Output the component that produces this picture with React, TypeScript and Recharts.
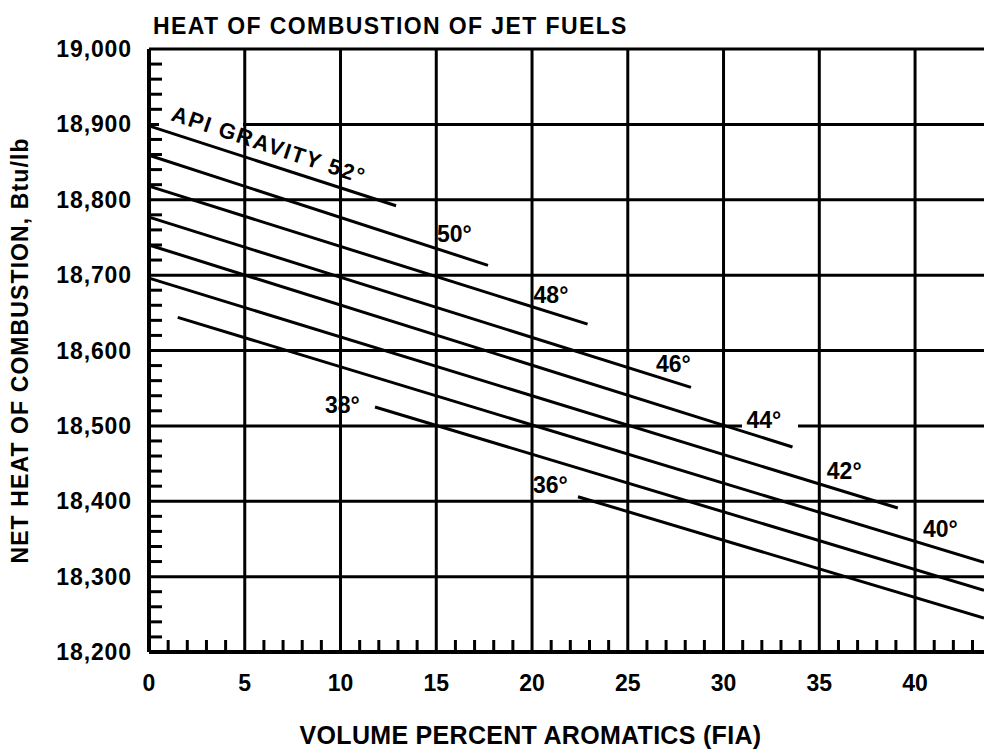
import { LineChart, Line, XAxis, YAxis, CartesianGrid, Label } from "recharts";

// API gravity of each curve and the two end points
const gravities = [52, 50, 48, 46, 44, 42, 40, 38, 36];
const startAromatics = [0, 0, 0, 0, 0, 0, 1.5, 11.8, 22.4];
const startHeat = [18898, 18859, 18818, 18777, 18740, 18696, 18644, 18525, 18406];
const endAromatics = [12.9, 17.7, 22.9, 28.3, 33.6, 39.1, 43.6, 43.6, 43.6];
const endHeat = [18792, 18713, 18635, 18551, 18472, 18391, 18319, 18282, 18245];

const majorX = [0, 5, 10, 15, 20, 25, 30, 35, 40];
const majorY = [18200, 18300, 18400, 18500, 18600, 18700, 18800, 18900, 19000];
const xTicks = Array.from({ length: 44 }, (_, i) => i);
const yTicks = Array.from({ length: 41 }, (_, i) => 18200 + i * 20);

const FONT = '"Liberation Sans", Arial, Helvetica, sans-serif';

type Placement = {
  at: number;
  dx: number;
  dy: number;
  text?: string;
  angle?: number;
  spacing?: number;
  // white patch that breaks the grid line behind the label
  knock?: { x: number; y: number; w: number; h: number };
};

const placements: Record<number, Placement> = {
  52: {
    at: 0,
    dx: 21,
    dy: -6,
    text: "API GRAVITY 52°",
    angle: 18.5,
    spacing: 1.7,
    knock: { x: 10, y: -5, w: 84, h: 5.2 },
  },
  50: { at: 1, dx: -51, dy: -23 },
  48: { at: 1, dx: -54, dy: -21 },
  46: { at: 1, dx: -35, dy: -15 },
  44: { at: 1, dx: -46, dy: -19, knock: { x: -50.5, y: -29, w: 56, h: 10 } },
  42: { at: 1, dx: -71, dy: -29 },
  40: { at: 1, dx: -61, dy: -25 },
  38: { at: 0, dx: -50, dy: 6 },
  36: { at: 0, dx: -45, dy: -4 },
};

const series = gravities.map((g, i) => ({
  gravity: g,
  points: [
    { x: startAromatics[i], y: startHeat[i] },
    { x: endAromatics[i], y: endHeat[i] },
  ],
}));

const XTick = (props: any) => {
  const { x, y, payload } = props;
  const v = payload.value;
  if (v % 5 !== 0) {
    return <line x1={x} y1={y} x2={x} y2={y - 12} stroke="#000" strokeWidth={3} />;
  }
  return (
    <text x={x} y={y + 39} textAnchor="middle" fontFamily={FONT} fontSize={23} fontWeight="bold" fill="#000">
      {v}
    </text>
  );
};

const YTick = (props: any) => {
  const { x, y, payload } = props;
  const v = payload.value;
  if (v % 100 !== 0) {
    return <line x1={x} y1={y} x2={x + 13} y2={y} stroke="#000" strokeWidth={3} />;
  }
  return (
    <text
      x={x - 17}
      y={y + 8}
      textAnchor="end"
      fontFamily={FONT}
      fontSize={23}
      fontWeight="bold"
      letterSpacing={0.9}
      fill="#000"
    >
      {v.toLocaleString("en-US")}
    </text>
  );
};

const labelDot = (g: number) => (p: any) => {
  const pl = placements[g];
  const key = `lbl-${g}-${p.index}`;
  if (p.index !== pl.at) return <g key={key} />;
  const x = p.cx + pl.dx;
  const y = p.cy + pl.dy;
  const k = pl.knock;
  return (
    <g key={key}>
      {k && <rect x={p.cx + k.x} y={p.cy + k.y} width={k.w} height={k.h} fill="#fff" />}
      <text
        x={x}
        y={y}
        fontFamily={FONT}
        fontSize={pl.angle ? 22 : 23}
        fontWeight="bold"
        letterSpacing={pl.spacing ?? 0}
        fill="#000"
        transform={pl.angle ? `rotate(${pl.angle} ${x} ${y})` : undefined}
      >
        {pl.text ?? `${g}°`}
      </text>
    </g>
  );
};

export default function App() {
  return (
    <div style={{ position: "absolute", left: 0, top: 0, width: 984, height: 751, background: "#fff" }}>
      <div
        style={{
          position: "absolute",
          left: 153,
          top: 15,
          fontFamily: FONT,
          fontSize: 23,
          lineHeight: "23px",
          fontWeight: "bold",
          letterSpacing: 1.4,
          whiteSpace: "nowrap",
          color: "#000",
        }}
      >
        HEAT OF COMBUSTION OF JET FUELS
      </div>
      <LineChart width={984} height={751} margin={{ top: 49, right: 0, bottom: 0, left: 0 }}>
        <CartesianGrid
          stroke="#000"
          strokeWidth={3}
          horizontalValues={majorY.slice(1)}
          verticalValues={majorX.slice(1)}
        />
        <XAxis
          type="number"
          dataKey="x"
          domain={[0, 43.6]}
          ticks={xTicks}
          interval={0}
          tick={(p: any) => <XTick {...p} />}
          tickLine={false}
          tickSize={0}
          tickMargin={0}
          height={99}
          axisLine={{ stroke: "#000", strokeWidth: 4 }}
        >
          <Label
            value="VOLUME PERCENT AROMATICS (FIA)"
            position="insideBottom"
            offset={7}
            dx={-36}
            fill="#000"
            style={{ fontFamily: FONT, fontSize: 25, fontWeight: "bold", letterSpacing: 0.3 }}
          />
        </XAxis>
        <YAxis
          type="number"
          domain={[18200, 19000]}
          ticks={yTicks}
          interval={0}
          tick={(p: any) => <YTick {...p} />}
          tickLine={false}
          tickSize={0}
          tickMargin={0}
          width={149}
          axisLine={{ stroke: "#000", strokeWidth: 4 }}
        >
          <Label
            value="NET HEAT OF COMBUSTION, Btu/lb"
            angle={-90}
            position="insideLeft"
            offset={25}
            dx={-5}
            fill="#000"
            style={{ textAnchor: "middle", fontFamily: FONT, fontSize: 23, fontWeight: "bold", letterSpacing: 1.1 }}
          />
        </YAxis>
        {series.map((s) => (
          <Line
            key={s.gravity}
            data={s.points}
            dataKey="y"
            type="linear"
            stroke="#000"
            strokeWidth={3}
            dot={labelDot(s.gravity)}
            activeDot={false}
            isAnimationActive={false}
          />
        ))}
      </LineChart>
    </div>
  );
}
